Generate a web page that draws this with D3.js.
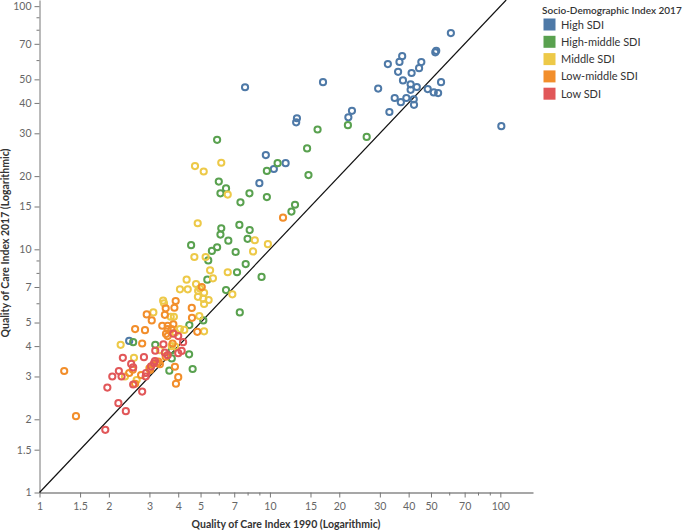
<!DOCTYPE html>
<html><head><meta charset="utf-8">
<script src="https://cdn.jsdelivr.net/npm/d3@7"></script>
<style>
html,body{margin:0;padding:0;background:#fff;}
svg{display:block;font-family:Lato,"Open Sans",sans-serif;}
</style></head>
<body><svg id="chart" width="685" height="531"></svg>
<script>
// Quality of Care Index: [1990, 2017] by SDI group
const highSDI = [[7.8,46.4],[17,48.7],[61,77.5],[52.2,64.6],[52.7,65.5],[37.5,62.3],[36.5,59],[32.5,57.8],[45.4,58.9],[44.4,55.6],[36,53.7],[41.2,53.1],[37.8,49.5],[55.3,48.7],[40.8,47.7],[43.4,46.5],[40.8,45.3],[29.5,45.8],[48.4,45.6],[51.4,44.2],[53.7,43.9],[34.8,41.9],[39.1,41.9],[37,40.3],[42.1,41.4],[42.2,39.3],[33,36.7],[101,32.1],[22.7,37.1],[21.9,34.9],[13.1,34.6],[13,33.3],[9.6,24.4],[11.7,22.6],[10.4,21.4],[9.0,18.7],[2.45,4.2]];
const highMiddleSDI = [[16.1,31.1],[21.8,32.4],[26.3,29],[14.5,26],[10.8,22.6],[9.7,21],[14.7,20.2],[5.9,28.2],[6.0,19.0],[6.45,17.8],[6.1,17],[8.15,17],[7.45,15.6],[9.7,16.4],[12.85,15.25],[12.4,14.3],[7.37,12.6],[6.15,12.2],[8.17,12.0],[6.1,11.5],[6.6,10.85],[8.0,11.05],[4.55,10.4],[5.9,10.2],[5.6,9.85],[7.1,9.75],[5.4,9.0],[7.85,8.7],[7.2,8.05],[9.2,7.7],[5.35,7.5],[6.45,6.8],[7.4,5.5],[2.55,4.15],[4.47,4.88],[5.14,5.1],[3.18,4.05],[3.75,3.85],[3.75,3.56],[4.46,3.7],[4.62,3.22],[3.66,3.17]];
const middleSDI = [[4.73,22],[5.16,20.9],[6.15,22.7],[6.56,16.8],[4.86,12.8],[8.6,10.9],[9.8,10.5],[8.45,9.8],[4.7,9.3],[5.26,9.3],[5.5,8.2],[6.56,8.05],[5.66,7.6],[4.35,7.5],[4.78,7.2],[6.87,6.53],[4.07,6.85],[4.4,6.85],[4.97,6.9],[4.88,6.75],[5.18,6.63],[4.87,6.38],[5.14,6.26],[5.42,6.19],[5.18,5.96],[3.44,6.15],[3.47,6.0],[3.12,5.5],[3.71,5.28],[3.83,5.28],[4.94,5.32],[5.18,4.6],[4.07,4.7],[4.25,4.66],[3.88,4.55],[2.25,4.05],[3.75,4.0],[3.88,3.98],[2.57,3.58],[3.33,3.85],[2.35,3.0],[2.64,2.9]];
const lowMiddleSDI = [[11.4,13.5],[1.28,3.16],[1.44,2.06],[3.9,6.13],[3.53,5.72],[3.85,5.75],[4.58,5.74],[2.92,5.4],[3.07,5.1],[3.5,5.38],[4.59,5.23],[3.41,4.85],[3.6,4.85],[3.81,4.92],[3.54,4.49],[3.6,4.7],[3.74,4.7],[2.6,4.7],[2.87,4.65],[4.84,4.58],[2.79,4.1],[3.6,4.4],[3.53,3.62],[3.23,3.4],[3.33,3.37],[3.87,3.29],[4.0,2.98],[3.91,2.8],[2.45,3.1],[2.54,3.2],[2.76,3.04],[2.6,2.8],[3.0,3.24],[3.02,3.19],[3.28,3.45],[5.06,7.0],[3.78,4.1]];
const lowSDI = [[1.93,1.81],[2.2,2.33],[2.37,2.16],[1.97,2.7],[2.79,2.6],[2.07,3.0],[2.27,3.0],[2.21,3.16],[2.3,3.58],[2.84,3.6],[3.18,3.83],[2.89,3.0],[2.5,3.38],[2.55,3.27],[3.17,3.47],[3.5,3.76],[3.6,3.67],[4.0,3.74],[4.14,3.82],[3.45,4.07],[3.81,4.5],[4.2,4.15],[4.0,4.4],[2.55,2.78],[2.9,3.1],[3.05,3.3],[3.14,3.4]];

const groupNames = ["High SDI","High-middle SDI","Middle SDI","Low-middle SDI","Low SDI"];
const groupColors = ["#4e79a7","#59a14f","#edc948","#f28e2b","#e15759"];
const groupData = [highSDI, highMiddleSDI, middleSDI, lowMiddleSDI, lowSDI];
const majorTicks = [1,1.5,2,3,4,5,7,10,15,20,30,40,50,70,100];
const minorTicks = [6,8,9,60,80,90];
const legendTitle = "Socio-Demographic Index 2017";
const xTitle = "Quality of Care Index 1990 (Logarithmic)";
const yTitle = "Quality of Care Index 2017 (Logarithmic)";

const svg = d3.select("#chart");
const x = d3.scaleLog().domain([1, 138.6]).range([39.5, 533]);
const y = d3.scaleLog().domain([1, 106]).range([492.5, 0]);
const fmt = d => String(d);

// axes
const gx = svg.append("g").attr("transform","translate(0,492.5)")
  .call(d3.axisBottom(x).tickValues(majorTicks).tickFormat(fmt).tickSize(5).tickPadding(5).tickSizeOuter(0));
const gxm = svg.append("g").attr("transform","translate(0,492.5)")
  .call(d3.axisBottom(x).tickValues(minorTicks).tickFormat("").tickSize(3).tickSizeOuter(0));
const gy = svg.append("g").attr("transform","translate(39.5,0)")
  .call(d3.axisLeft(y).tickValues(majorTicks).tickFormat(fmt).tickSize(5).tickPadding(3).tickSizeOuter(0));
const gym = svg.append("g").attr("transform","translate(39.5,0)")
  .call(d3.axisLeft(y).tickValues(minorTicks).tickFormat("").tickSize(3).tickSizeOuter(0));
[gxm, gym].forEach(g => g.select(".domain").remove());
[gx, gy, gxm, gym].forEach(g => {
  g.selectAll(".tick line").attr("stroke","#777");
  g.selectAll("text").attr("fill","#666").style("font-size","10.5px").style("font-family","Lato, sans-serif");
});
gx.select(".domain").attr("stroke","#8a8a8a").attr("stroke-width",1.6);
gy.select(".domain").attr("stroke","#777").attr("stroke-width",1);

// diagonal reference line y = x
const diag = [1, 106];
svg.append("line")
  .attr("x1", x(diag[0])).attr("y1", y(diag[0]))
  .attr("x2", x(diag[1])).attr("y2", y(diag[1]))
  .attr("stroke","#111").attr("stroke-width",1.2);

// points
groupData.forEach((arr, i) => {
  svg.append("g").selectAll("circle").data(arr).join("circle")
    .attr("cx", d => x(d[0])).attr("cy", d => y(d[1])).attr("r", 3.1)
    .attr("fill","none").attr("stroke", groupColors[i]).attr("stroke-width", 2);
});

// axis titles
svg.append("text").attr("x", 286).attr("y", 528).attr("text-anchor","middle")
  .attr("fill","#333").style("font-size","10.5px").style("font-weight","700").text(xTitle);
svg.append("text").attr("transform","translate(9,243) rotate(-90)").attr("text-anchor","middle")
  .attr("fill","#333").style("font-size","10.5px").style("font-weight","700").text(yTitle);

// legend
const lg = svg.append("g").attr("transform","translate(542,0)");
lg.append("text").attr("x",0).attr("y",14).attr("fill","#333")
  .style("font-size","10px").style("font-weight","600").text(legendTitle);
groupNames.forEach((n, i) => {
  const yy = 18.5 + i*17.3;
  lg.append("rect").attr("x",1.5).attr("y",yy).attr("width",12).attr("height",12).attr("fill",groupColors[i]);
  lg.append("text").attr("x",19).attr("y",yy+10).attr("fill","#333").style("font-size","11px").text(n);
});
</script></body></html>
